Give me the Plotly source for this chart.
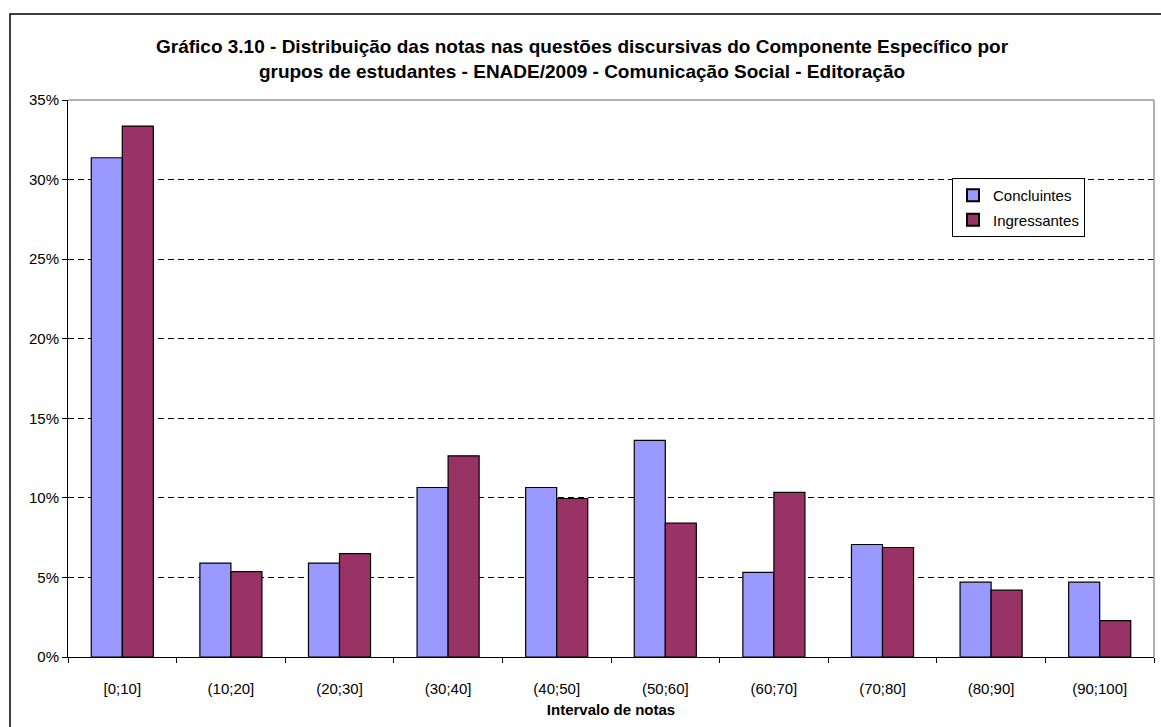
import plotly.graph_objects as go

categories = ["[0;10]", "(10;20]", "(20;30]", "(30;40]", "(40;50]",
              "(50;60]", "(60;70]", "(70;80]", "(80;90]", "(90;100]"]
concluintes = [31.37, 5.90, 5.90, 10.65, 10.65, 13.61, 5.32, 7.07, 4.70, 4.70]
ingressantes = [33.36, 5.36, 6.50, 12.64, 9.96, 8.41, 10.35, 6.88, 4.20, 2.29]
y_ticks = [0, 5, 10, 15, 20, 25, 30, 35]
y_labels = ["0%", "5%", "10%", "15%", "20%", "25%", "30%", "35%"]

FONT = "Liberation Sans, Arial, sans-serif"

fig = go.Figure()
fig.add_trace(go.Bar(x=categories, y=concluintes, name="Concluintes",
                     marker=dict(color="#9999FF", line=dict(color="black", width=1.2)),
                     legendgroup="a"))
fig.add_trace(go.Bar(x=categories, y=ingressantes, name="Ingressantes",
                     marker=dict(color="#993366", line=dict(color="black", width=1.2)),
                     legendgroup="b"))

W, H = 1161, 727
L, R, T, B = 68, 7, 100, 70
pw = W - L - R
ph = H - T - B

fig.update_layout(
    width=W, height=H,
    margin=dict(l=L, r=R, t=T, b=B),
    paper_bgcolor="white", plot_bgcolor="white",
    bargap=0.4286, bargroupgap=0,
    font=dict(family=FONT, size=15, color="black"),
    title=dict(
        text="Gráfico 3.10 - Distribuição das notas nas questões discursivas do Componente Específico por<br>grupos de estudantes - ENADE/2009 - Comunicação Social - Editoração",
        x=582 / W, xanchor="center", y=1 - 53 / H, yanchor="middle",
        font=dict(family=FONT, size=19, color="black", weight="bold"),
    ),
    showlegend=True,
    legend=dict(
        x=(952 - L) / pw, y=(H - B - 178) / ph, xanchor="left", yanchor="top",
        bgcolor="white", bordercolor="black", borderwidth=1,
        font=dict(family=FONT, size=15, color="black"),
        tracegroupgap=2, itemsizing="constant", itemwidth=30,
    ),
    xaxis=dict(
        type="category", showline=True, linecolor="black", linewidth=1,
        ticks="outside", ticklen=5, tickcolor="black", tickson="boundaries",
        showgrid=False, ticklabelstandoff=18,
        tickfont=dict(family=FONT, size=15, color="black"),
        title=dict(text="Intervalo de notas", standoff=8,
                   font=dict(family=FONT, size=15, color="black", weight="bold")),
    ),
    yaxis=dict(
        range=[0, 35], tickvals=y_ticks, ticktext=y_labels,
        showline=True, linecolor="black", linewidth=1,
        ticks="outside", ticklen=5, tickcolor="black",
        showgrid=True, gridcolor="black", gridwidth=1, griddash="6px,4px",
        zeroline=False,
        tickfont=dict(family=FONT, size=15, color="black"),
    ),
)

# Plot area border (top and right, gray)
fig.add_shape(type="line", xref="paper", yref="paper", x0=0, x1=1, y0=1, y1=1,
              line=dict(color="#999999", width=1.5), layer="above")
fig.add_shape(type="line", xref="paper", yref="paper", x0=1, x1=1, y0=0, y1=1,
              line=dict(color="#999999", width=1.5), layer="above")
# Outer chart border
fig.add_shape(type="rect", xref="paper", yref="paper",
              x0=(10 - L) / pw, x1=(W + 20 - L) / pw,
              y0=(H - B - (H + 20)) / ph, y1=(H - B - 14) / ph,
              line=dict(color="black", width=1.5), fillcolor="rgba(0,0,0,0)", layer="below")

fig.write_html("out.html", config={"displayModeBar": False},
               post_script="document.body.style.margin='0';document.body.style.overflow='hidden';")
